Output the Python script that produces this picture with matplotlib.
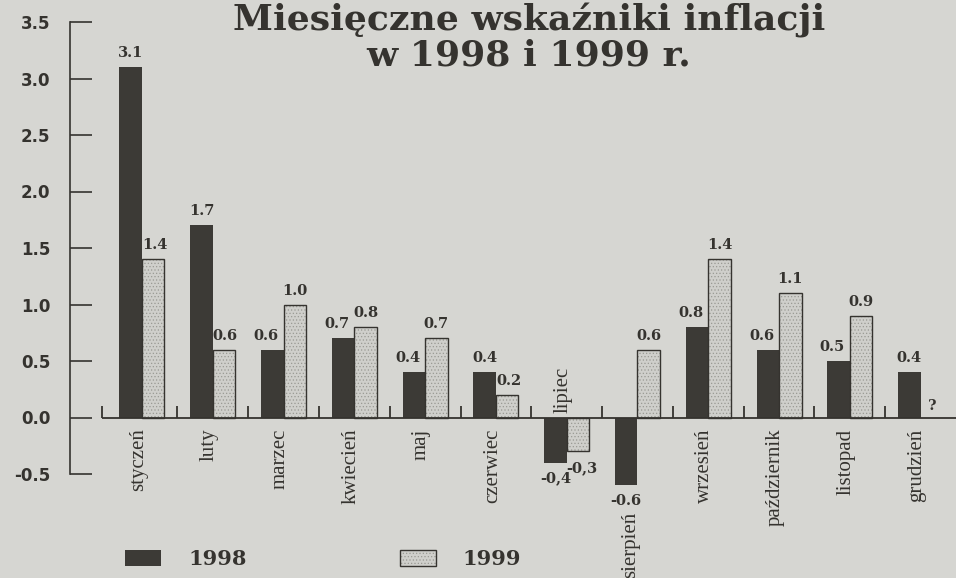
import numpy as np
import matplotlib
matplotlib.use('Agg')
import matplotlib.pyplot as plt
from matplotlib.legend_handler import HandlerTuple

# monthly inflation, percent
months = ['styczeń', 'luty', 'marzec', 'kwiecień', 'maj', 'czerwiec',
          'lipiec', 'sierpień', 'wrzesień', 'październik', 'listopad', 'grudzień']
infl_1998 = [3.1, 1.7, 0.6, 0.7, 0.4, 0.4, -0.4, -0.6, 0.8, 0.6, 0.5, 0.4]
infl_1999 = [1.4, 0.6, 1.0, 0.8, 0.7, 0.2, -0.3, 0.6, 1.4, 1.1, 0.9]  # no December yet
labels_1998 = ['3.1', '1.7', '0.6', '0.7', '0.4', '0.4', '-0,4', '-0.6', '0.8', '0.6', '0.5', '0.4']
labels_1999 = ['1.4', '0.6', '1.0', '0.8', '0.7', '0.2', '-0,3', '0.6', '1.4', '1.1', '0.9', '?']
yticks = [-0.5, 0.0, 0.5, 1.0, 1.5, 2.0, 2.5, 3.0, 3.5]

paper = '#d6d6d2'
ink = '#35332f'
dark = '#3c3a36'
light = '#cfcfcb'

plt.rcParams['hatch.linewidth'] = 0.5

fig = plt.figure(figsize=(9.56, 5.78), dpi=100, facecolor=paper)
ax = fig.add_axes([70 / 956, 104 / 578, 1 - 70 / 956, 452 / 578])
ax.set_facecolor('none')

x = np.arange(len(months))
w = 0.318

b98 = ax.bar(x - w / 2, infl_1998, w, color=dark, linewidth=0, clip_on=False, zorder=3)
x99 = x[:len(infl_1999)]
b99_fill = ax.bar(x99 + w / 2, infl_1999, w, color=light, hatch='.....',
                  edgecolor='#9a9a94', linewidth=0, clip_on=False, zorder=3)
b99_edge = ax.bar(x99 + w / 2, infl_1999, w, fill=False, edgecolor=ink,
                  linewidth=1.0, clip_on=False, zorder=4)

# baseline and group separators
ax.hlines(0, -0.56, 11.5, color=ink, linewidth=1.3, zorder=5, clip_on=False)
ax.vlines(np.r_[-0.56, x[1:] - 0.5], 0, 0.1, color=ink, linewidth=1.3, zorder=5)

vfont = dict(family='DejaVu Serif', weight='bold', size=10.5, color=ink)
for i in x:
    v1 = infl_1998[i]
    v2 = infl_1999[i] if i < len(infl_1999) else None
    # 1998 value
    if v1 >= 0:
        if v2 is not None and v2 > v1:
            ax.annotate(labels_1998[i], (i - 0.07, v1), xytext=(0, 5), textcoords='offset points',
                        ha='right', va='bottom', **vfont)
        else:
            ax.annotate(labels_1998[i], (i - w / 2, v1), xytext=(0, 5), textcoords='offset points',
                        ha='center', va='bottom', **vfont)
    else:
        ax.annotate(labels_1998[i], (i - w / 2, v1), xytext=(0, -6), textcoords='offset points',
                    ha='center', va='top', annotation_clip=False, **vfont)
    # 1999 value
    if v2 is None:
        ax.annotate(labels_1999[i], (i + w / 2, 0), xytext=(0, 3), textcoords='offset points',
                    ha='center', va='bottom', **vfont)
    elif v2 >= 0:
        if v1 > v2:
            ax.annotate(labels_1999[i], (i, v2), xytext=(0, 5), textcoords='offset points',
                        ha='left', va='bottom', **vfont)
        else:
            ax.annotate(labels_1999[i], (i + w / 2, v2), xytext=(0, 5), textcoords='offset points',
                        ha='center', va='bottom', **vfont)
    else:
        ha = 'left' if v1 < v2 else 'center'
        xx = i if v1 < v2 else i + w / 2
        ax.annotate(labels_1999[i], (xx, v2), xytext=(0, -7), textcoords='offset points',
                    ha=ha, va='top', annotation_clip=False, **vfont)

# month names, rotated
mfont = dict(family='Liberation Serif', size=15, color=ink, rotation=90)
for i, m in enumerate(months):
    v1 = infl_1998[i]
    v2 = infl_1999[i] if i < len(infl_1999) else 0
    if v1 < 0 and v2 < 0:
        ax.annotate(m, (i - 0.05, 0), xytext=(0, 3), textcoords='offset points',
                    ha='center', va='bottom', **mfont)
    elif v1 < 0:
        ax.annotate(m, (i - 0.1, v1), xytext=(0, -19), textcoords='offset points',
                    ha='center', va='top', annotation_clip=False, **mfont)
    else:
        ax.annotate(m, (i - 0.05, 0), xytext=(0, -8), textcoords='offset points',
                    ha='center', va='top', annotation_clip=False, **mfont)

ax.set_xlim(-1.017, 11.5)
ax.set_ylim(-0.5, 3.5)
ax.set_yticks(yticks, [f'{t:.1f}' for t in yticks])
ax.set_xticks([])
ax.tick_params(axis='y', direction='in', length=16, width=1.2, pad=14,
               colors=ink, labelsize=12)
for lab in ax.get_yticklabels():
    lab.set_fontweight('bold')
    lab.set_family('DejaVu Sans')
for s in ['top', 'right', 'bottom']:
    ax.spines[s].set_visible(False)
ax.spines['left'].set_color(ink)
ax.spines['left'].set_linewidth(1.2)

tfont = dict(family='DejaVu Serif', weight='bold', size=26, color=ink, ha='center', va='baseline')
fig.text(0.553, 1 - 30 / 578, 'Miesięczne wskaźniki inflacji', **tfont)
fig.text(0.553, 1 - 66 / 578, 'w 1998 i 1999 r.', **tfont)

fig.legend(handles=[b98, (b99_fill, b99_edge)], labels=['1998', '1999'],
           loc='lower left', bbox_to_anchor=(125 / 956, 9 / 578), ncol=2,
           frameon=False, borderpad=0, borderaxespad=0,
           handlelength=1.73, handleheight=0.82, handletextpad=1.3, columnspacing=7.35,
           prop=dict(family='DejaVu Serif', weight='bold', size=15),
           labelcolor=ink, handler_map={tuple: HandlerTuple(ndivide=1)})

fig.savefig('out.png', dpi=100, facecolor=paper)
